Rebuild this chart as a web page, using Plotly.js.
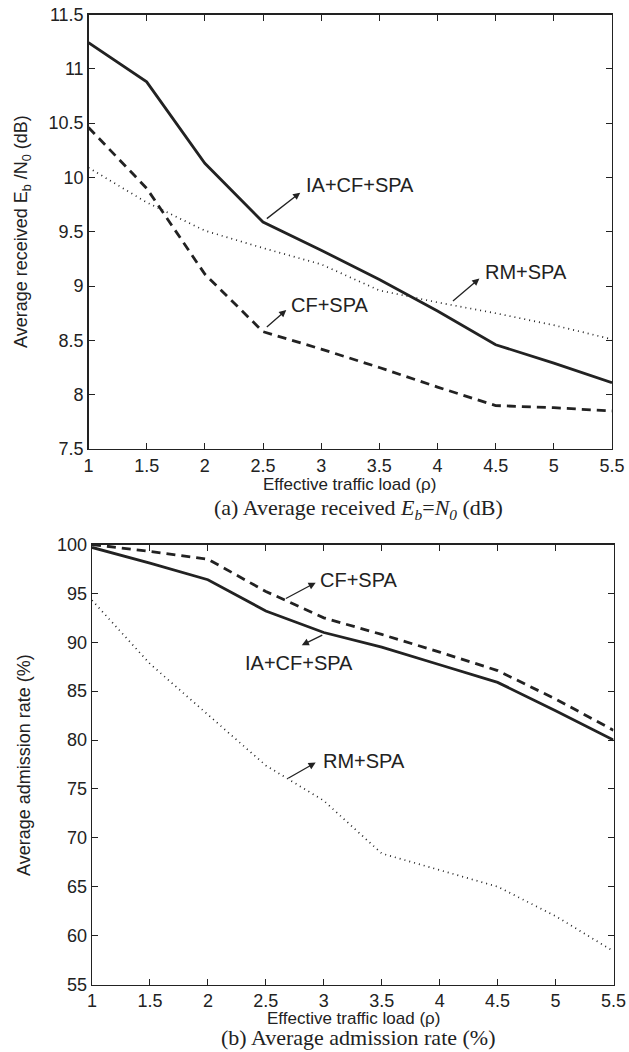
<!DOCTYPE html>
<html>
<head>
<meta charset="utf-8">
<script src="https://cdn.plot.ly/plotly-3.0.1.min.js"></script>
<style>html,body{margin:0;padding:0;background:#fff;}#chart{width:629px;height:1052px;}</style>
</head>
<body>
<div id="chart"></div>
<script>
// ---- data ----
const load = [1, 1.5, 2, 2.5, 3, 3.5, 4, 4.5, 5, 5.5];

// (a) Average received Eb/N0 (dB)
const ebIACF = [11.24, 10.88, 10.13, 9.59, 9.33, 9.06, 8.77, 8.46, 8.29, 8.11];
const ebCF   = [10.46, 9.90, 9.11, 8.58, 8.42, 8.25, 8.07, 7.90, 7.88, 7.85];
const ebRM   = [10.09, 9.77, 9.51, 9.35, 9.20, 8.96, 8.85, 8.75, 8.64, 8.51];

// (b) Average admission rate (%)
const arIACF = [99.7, 98.1, 96.4, 93.2, 91.0, 89.5, 87.7, 85.9, 83.0, 80.0];
const arCF   = [100.0, 99.3, 98.5, 95.2, 92.5, 90.8, 89.0, 87.1, 84.2, 81.0];
const arRM   = [94.3, 87.8, 82.6, 77.4, 73.8, 68.4, 66.7, 65.0, 62.0, 58.4];

const xTicks = [1, 1.5, 2, 2.5, 3, 3.5, 4, 4.5, 5, 5.5];
const yTicksA = [7.5, 8, 8.5, 9, 9.5, 10, 10.5, 11, 11.5];
const yTicksB = [55, 60, 65, 70, 75, 80, 85, 90, 95, 100];

const xTitle = 'Effective traffic load (\u03c1)';
const yTitleA = 'Average received E<sub>b</sub> /N<sub>0</sub> (dB)';
const yTitleB = 'Average admission rate (%)';
const captionA = '(a) Average received <i>E<sub>b</sub></i>=<i>N<sub>0</sub></i> (dB)';
const captionB = '(b) Average admission rate (%)';

// ---- styling ----
const ink = '#222';
const W = 629, H = 1052;
const px = v => v / W;
const py = v => 1 - v / H;
const sans = 'Liberation Sans, Arial, Helvetica, sans-serif';
const serif = 'Liberation Serif, Times New Roman, serif';

function mk(x, y, dash, width, xa, ya, name) {
  return {x: x, y: y, type: 'scatter', mode: 'lines', name: name,
    xaxis: xa, yaxis: ya, line: {color: ink, width: width, dash: dash}, showlegend: false, hoverinfo: 'skip'};
}

const traces = [
  mk(load, ebIACF, 'solid', 2.8, 'x', 'y', 'IA+CF+SPA'),
  mk(load, ebCF, '9px,6px', 2.8, 'x', 'y', 'CF+SPA'),
  mk(load, ebRM, '1px,4px', 1.7, 'x', 'y', 'RM+SPA'),
  mk(load, arIACF, 'solid', 2.8, 'x2', 'y2', 'IA+CF+SPA'),
  mk(load, arCF, '9px,6px', 2.8, 'x2', 'y2', 'CF+SPA'),
  mk(load, arRM, '1px,4px', 1.7, 'x2', 'y2', 'RM+SPA')
];

const tickFont = {family: sans, size: 18, color: ink};

function xax(domain, anchor) {
  return {domain: domain, anchor: anchor, range: [1, 5.5], tickvals: xTicks,
    ticktext: xTicks.map(String), ticks: 'inside', ticklen: 6, tickcolor: ink, tickwidth: 1,
    showline: true, linecolor: ink, linewidth: 1.3, mirror: 'ticks', showgrid: false, zeroline: false,
    tickfont: tickFont};
}
function yax(domain, anchor, range, vals) {
  return {domain: domain, anchor: anchor, range: range, tickvals: vals,
    ticktext: vals.map(String), ticks: 'inside', ticklen: 6, tickcolor: ink, tickwidth: 1,
    showline: true, linecolor: ink, linewidth: 1.3, mirror: 'ticks', showgrid: false, zeroline: false,
    tickfont: tickFont};
}

const labFont = {family: sans, size: 20, color: ink};
function arrowLabel(xref, yref, text, tx, ty, hx, hy, ax, ay, anchor) {
  return [
    {xref: xref, yref: yref, x: hx, y: hy, axref: xref, ayref: yref, ax: ax, ay: ay,
     showarrow: true, arrowhead: 2, arrowsize: 1.1, arrowwidth: 1.3, arrowcolor: ink, text: ''},
    {xref: xref, yref: yref, x: tx, y: ty, text: text, showarrow: false, font: labFont,
     xanchor: anchor, yanchor: 'middle'}
  ];
}

function paperText(text, x, y, font, angle) {
  return {xref: 'paper', yref: 'paper', x: px(x), y: py(y), text: text, showarrow: false,
    font: font, xanchor: 'center', yanchor: 'middle', textangle: angle || 0};
}

const titleFont = {family: sans, size: 18, color: ink};
const xTitleFont = {family: sans, size: 17, color: ink};
const capFont = {family: serif, size: 22, color: ink};

const annotations = [].concat(
  arrowLabel('x', 'y', 'IA+CF+SPA', 2.85, 9.93, 2.82, 9.86, 2.52, 9.61, 'left'),
  arrowLabel('x', 'y', 'RM+SPA', 4.39, 9.13, 4.36, 9.07, 4.12, 8.85, 'left'),
  arrowLabel('x', 'y', 'CF+SPA', 2.72, 8.83, 2.70, 8.78, 2.52, 8.61, 'left'),
  arrowLabel('x2', 'y2', 'CF+SPA', 2.95, 96.4, 2.93, 96.1, 2.66, 94.4, 'left'),
  arrowLabel('x2', 'y2', 'IA+CF+SPA', 2.30, 87.9, 2.81, 89.7, 3.0, 90.8, 'left'),
  arrowLabel('x2', 'y2', 'RM+SPA', 2.98, 77.9, 2.93, 77.7, 2.68, 76.0, 'left'),
  [
    paperText(xTitle, 350, 485, xTitleFont),
    paperText(captionA, 358, 509, capFont),
    paperText(yTitleA, 22, 232, titleFont, -90),
    paperText(xTitle, 353, 1018, xTitleFont),
    paperText(captionB, 358, 1037, capFont),
    paperText(yTitleB, 24, 765, titleFont, -90)
  ]
);

const layout = {
  width: W, height: H,
  margin: {l: 0, r: 0, t: 0, b: 0},
  paper_bgcolor: '#fff', plot_bgcolor: '#fff',
  showlegend: false,
  xaxis: xax([px(88.5), px(612)], 'y'),
  yaxis: yax([py(449), py(14.5)], 'x', [7.5, 11.5], yTicksA),
  xaxis2: xax([px(92), px(613.5)], 'y2'),
  yaxis2: yax([py(984.5), py(544.5)], 'x2', [55, 100], yTicksB),
  annotations: annotations
};

Plotly.newPlot('chart', traces, layout, {staticPlot: true, displayModeBar: false});
</script>
</body>
</html>
